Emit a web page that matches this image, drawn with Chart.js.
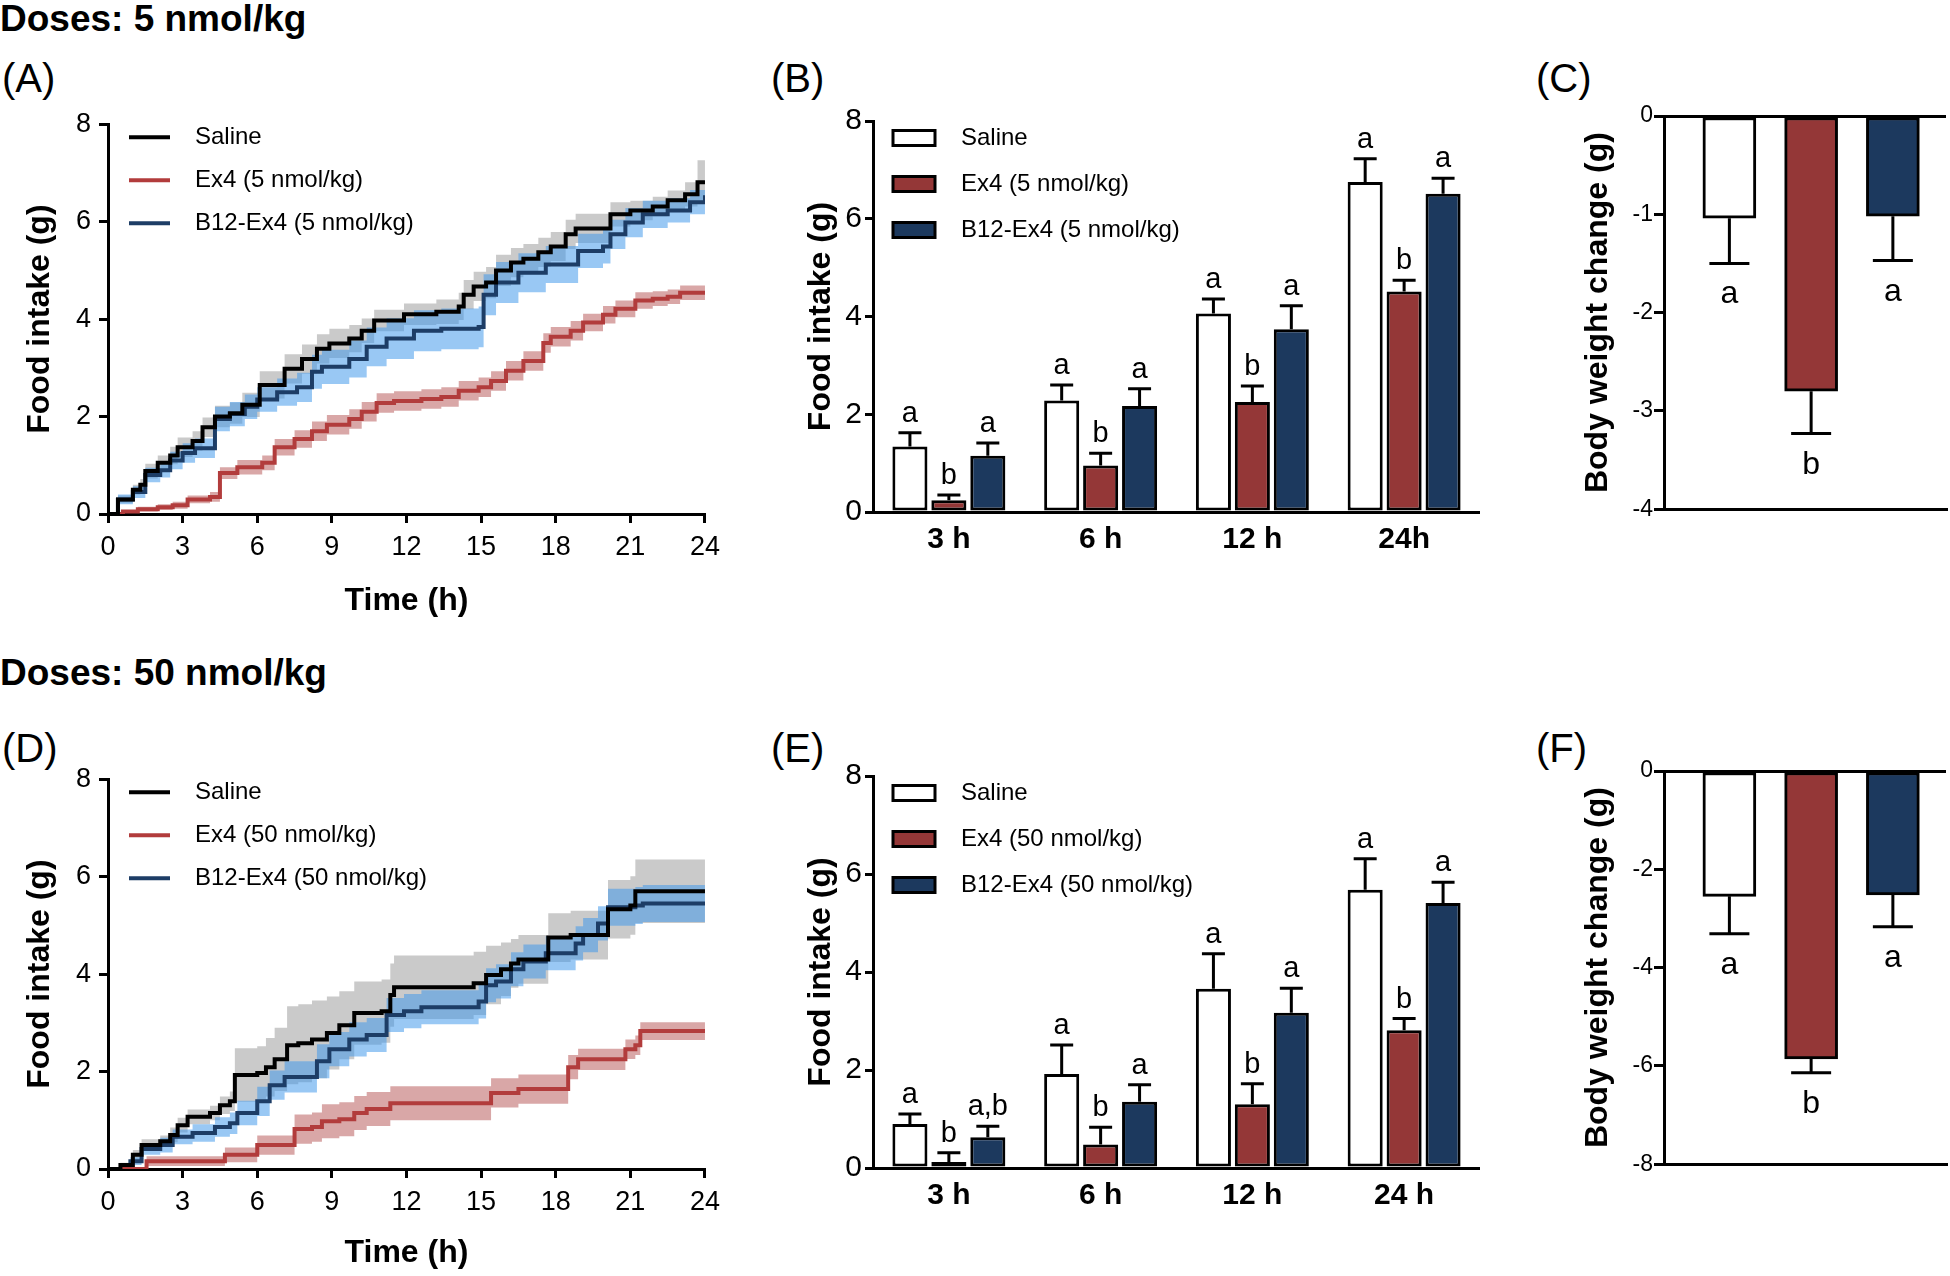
<!DOCTYPE html>
<html lang="en">
<head>
<meta charset="UTF-8">
<title>Food intake and body weight - Ex4 vs B12-Ex4</title>
<script src="https://cdn.jsdelivr.net/npm/chart.js"></script>
<style>
  body { margin: 0; background: #fff; font-family: "Liberation Sans", Arial, sans-serif; color: #000; }
  #page { position: relative; width: 1950px; height: 1276px; overflow: hidden; }
  .dose { position: absolute; left: 0; font-size: 37px; font-weight: bold; line-height: 1; white-space: nowrap; }
  .tag { position: absolute; font-size: 40px; line-height: 1; }
  .box { position: absolute; }
</style>
</head>
<body>
<div id="page">
  <div class="dose" style="top:0px">Doses: 5 nmol/kg</div>
  <div class="dose" style="top:654px">Doses: 50 nmol/kg</div>

  <div class="tag" style="left:2px;top:58px">(A)</div>
  <div class="tag" style="left:771px;top:58px">(B)</div>
  <div class="tag" style="left:1536px;top:58px">(C)</div>
  <div class="tag" style="left:2px;top:728px">(D)</div>
  <div class="tag" style="left:771px;top:728px">(E)</div>
  <div class="tag" style="left:1536px;top:728px">(F)</div>

  <div class="box" style="left:0;top:100px;width:728px;height:520px"><canvas id="chartA"></canvas></div>
  <div class="box" style="left:780px;top:100px;width:700px;height:460px"><canvas id="chartB"></canvas></div>
  <div class="box" style="left:1560px;top:100px;width:390px;height:424px"><canvas id="chartC"></canvas></div>
  <div class="box" style="left:0;top:755px;width:728px;height:517px"><canvas id="chartD"></canvas></div>
  <div class="box" style="left:780px;top:755px;width:700px;height:461px"><canvas id="chartE"></canvas></div>
  <div class="box" style="left:1560px;top:755px;width:390px;height:424px"><canvas id="chartF"></canvas></div>
</div>

<script>
// ---- group names ----
const groupsLow = ['Saline', 'Ex4 (5 nmol/kg)', 'B12-Ex4 (5 nmol/kg)'];
const groupsHigh = ['Saline', 'Ex4 (50 nmol/kg)', 'B12-Ex4 (50 nmol/kg)'];

// ---- (A) cumulative food intake, 5 nmol/kg: time (h), mean (g), SEM (g) ----
const salineA_t = [0, 0.4, 1.0, 1.3, 1.5, 2.0, 2.5, 2.8, 3.4, 3.8, 4.3, 4.9, 5.4, 6.1, 7.1, 7.8, 8.4, 8.9, 9.7, 10.2, 10.7, 11.9, 13.2, 14.1, 14.3, 14.7, 15.2, 15.6, 16.2, 16.7, 17.3, 17.8, 18.4, 18.8, 20.2, 21.0, 21.9, 22.5, 23.2, 23.7, 24];
const salineA_v = [0, 0.3, 0.5, 0.6, 0.88, 1.05, 1.2, 1.37, 1.5, 1.78, 2.0, 2.07, 2.24, 2.65, 2.98, 3.18, 3.39, 3.5, 3.6, 3.76, 3.97, 4.1, 4.15, 4.26, 4.5, 4.67, 4.75, 5.0, 5.16, 5.24, 5.37, 5.49, 5.74, 5.86, 6.15, 6.23, 6.31, 6.44, 6.56, 6.81, 6.81];
const salineA_s = [0, 0.08, 0.1, 0.12, 0.15, 0.15, 0.18, 0.2, 0.2, 0.2, 0.22, 0.22, 0.25, 0.28, 0.3, 0.3, 0.3, 0.3, 0.28, 0.25, 0.22, 0.22, 0.25, 0.28, 0.3, 0.3, 0.32, 0.32, 0.3, 0.3, 0.3, 0.3, 0.3, 0.3, 0.25, 0.2, 0.2, 0.2, 0.25, 0.45, 0.45];

const ex4A_t = [0, 0.6, 1.2, 2.0, 2.6, 3.2, 4.1, 4.5, 5.2, 6.2, 6.7, 7.5, 8.2, 8.8, 9.7, 10.2, 10.8, 11.5, 12.6, 13.4, 14.1, 14.9, 15.4, 16.0, 16.7, 17.5, 17.8, 18.6, 19.1, 19.9, 20.4, 21.2, 21.9, 22.5, 23.0, 24];
const ex4A_v = [0, 0.05, 0.1, 0.14, 0.18, 0.3, 0.35, 0.84, 0.96, 1.05, 1.37, 1.54, 1.7, 1.83, 1.95, 2.1, 2.28, 2.32, 2.36, 2.4, 2.53, 2.6, 2.73, 2.94, 3.14, 3.51, 3.64, 3.76, 3.93, 4.09, 4.21, 4.38, 4.42, 4.46, 4.54, 4.54];
const ex4A_s = [0, 0.03, 0.05, 0.06, 0.07, 0.08, 0.1, 0.12, 0.15, 0.15, 0.17, 0.18, 0.2, 0.2, 0.2, 0.2, 0.2, 0.2, 0.2, 0.2, 0.2, 0.2, 0.2, 0.2, 0.2, 0.2, 0.2, 0.2, 0.18, 0.18, 0.17, 0.17, 0.15, 0.15, 0.15, 0.15];

const b12A_t = [0, 0.4, 1.0, 1.5, 2.1, 2.5, 3.0, 3.5, 4.3, 4.9, 5.5, 6.0, 6.8, 7.6, 8.2, 8.6, 9.7, 10.4, 11.2, 12.3, 13.4, 14.9, 15.1, 15.6, 16.5, 17.6, 18.9, 19.9, 20.2, 20.8, 21.5, 22.5, 23.4, 24];
const b12A_v = [0, 0.3, 0.45, 0.8, 0.9, 1.1, 1.25, 1.35, 1.95, 2.05, 2.2, 2.35, 2.5, 2.6, 2.92, 3.02, 3.18, 3.43, 3.6, 3.76, 3.8, 3.84, 4.5, 4.75, 4.95, 5.12, 5.4, 5.49, 5.74, 5.98, 6.15, 6.23, 6.4, 6.54];
const b12A_s = [0, 0.1, 0.12, 0.15, 0.15, 0.18, 0.2, 0.2, 0.25, 0.25, 0.25, 0.25, 0.28, 0.3, 0.35, 0.35, 0.38, 0.4, 0.42, 0.42, 0.42, 0.42, 0.42, 0.42, 0.4, 0.38, 0.35, 0.35, 0.3, 0.3, 0.28, 0.25, 0.25, 0.25];

// ---- (D) cumulative food intake, 50 nmol/kg ----
const salineD_t = [0, 0.5, 1.0, 1.35, 2.1, 2.5, 2.8, 3.2, 4.1, 4.5, 4.9, 5.1, 6.0, 6.35, 6.7, 7.2, 7.65, 8.2, 8.8, 9.3, 9.9, 11.0, 11.35, 11.5, 14.7, 15.2, 15.8, 16.2, 16.5, 17.7, 18.6, 20.1, 21.0, 21.2, 24];
const salineD_v = [0, 0.08, 0.29, 0.49, 0.57, 0.7, 0.9, 1.07, 1.15, 1.31, 1.39, 1.93, 1.97, 2.09, 2.25, 2.54, 2.58, 2.66, 2.79, 2.95, 3.2, 3.24, 3.57, 3.73, 3.81, 3.98, 4.1, 4.22, 4.3, 4.75, 4.8, 5.33, 5.41, 5.7, 5.7];
const salineD_s = [0, 0.05, 0.1, 0.12, 0.12, 0.15, 0.15, 0.15, 0.15, 0.18, 0.2, 0.55, 0.55, 0.6, 0.65, 0.8, 0.8, 0.8, 0.75, 0.7, 0.65, 0.65, 0.65, 0.65, 0.65, 0.6, 0.55, 0.5, 0.5, 0.5, 0.5, 0.6, 0.6, 0.65, 0.65];

const ex4D_t = [0, 1.55, 4.7, 6.0, 7.5, 8.2, 8.6, 9.3, 9.9, 10.4, 11.35, 15.4, 16.5, 18.5, 18.9, 20.8, 21.2, 21.4, 24];
const ex4D_v = [0, 0.16, 0.29, 0.49, 0.82, 0.86, 0.98, 1.02, 1.15, 1.23, 1.35, 1.56, 1.64, 2.09, 2.25, 2.46, 2.54, 2.83, 2.83];
const ex4D_s = [0, 0.1, 0.15, 0.2, 0.3, 0.3, 0.35, 0.35, 0.35, 0.35, 0.35, 0.3, 0.3, 0.25, 0.22, 0.2, 0.2, 0.18, 0.18];

const b12D_t = [0, 0.9, 1.35, 2.1, 2.6, 3.4, 4.3, 4.9, 5.2, 6.0, 6.5, 7.1, 8.4, 8.9, 9.7, 10.4, 11.2, 11.9, 12.6, 14.9, 15.2, 15.6, 16.2, 16.7, 17.6, 18.8, 19.1, 19.7, 20.1, 21.2, 21.5, 24];
const b12D_v = [0, 0.16, 0.41, 0.49, 0.66, 0.74, 0.86, 0.94, 1.15, 1.39, 1.72, 1.89, 2.21, 2.46, 2.66, 2.75, 3.16, 3.24, 3.32, 3.44, 3.77, 3.85, 4.1, 4.26, 4.43, 4.63, 4.8, 5.04, 5.37, 5.41, 5.45, 5.45];
const b12D_s = [0, 0.08, 0.12, 0.15, 0.15, 0.18, 0.2, 0.22, 0.25, 0.3, 0.3, 0.32, 0.35, 0.35, 0.35, 0.35, 0.35, 0.35, 0.35, 0.35, 0.35, 0.35, 0.35, 0.35, 0.35, 0.35, 0.35, 0.35, 0.38, 0.38, 0.38, 0.38];

// ---- (B) food intake at time points, 5 nmol/kg ----
const periodsLow = ['3 h', '6 h', '12 h', '24h'];
const salineB = [1.34, 2.28, 4.06, 6.75];
const salineB_sem = [0.28, 0.32, 0.30, 0.48];
const ex4B = [0.24, 0.95, 2.25, 4.51];
const ex4B_sem = [0.11, 0.25, 0.33, 0.23];
const b12B = [1.15, 2.17, 3.74, 6.51];
const b12B_sem = [0.26, 0.35, 0.48, 0.32];
const salineB_sig = ['a', 'a', 'a', 'a'];
const ex4B_sig = ['b', 'b', 'b', 'b'];
const b12B_sig = ['a', 'a', 'a', 'a'];

// ---- (E) food intake at time points, 50 nmol/kg ----
const periodsHigh = ['3 h', '6 h', '12 h', '24 h'];
const salineE = [0.90, 1.92, 3.66, 5.68];
const salineE_sem = [0.20, 0.59, 0.71, 0.63];
const ex4E = [0.12, 0.48, 1.30, 2.81];
const ex4E_sem = [0.19, 0.35, 0.42, 0.24];
const b12E = [0.63, 1.35, 3.17, 5.41];
const b12E_sem = [0.22, 0.35, 0.50, 0.42];
const salineE_sig = ['a', 'a', 'a', 'a'];
const ex4E_sig = ['b', 'b', 'b', 'b'];
const b12E_sig = ['a,b', 'a', 'a', 'a'];

// ---- (C)/(F) body weight change (g) ----
const weightC = [-1.04, -2.80, -1.02];
const weightC_sem = [0.46, 0.43, 0.45];
const weightC_sig = ['a', 'b', 'a'];
const weightF = [-2.55, -5.86, -2.52];
const weightF_sem = [0.76, 0.28, 0.65];
const weightF_sig = ['a', 'b', 'a'];

// ---- look ----
const lineColors = ['#000000', '#b23c3c', '#1d3d66'];
const bandColors = ['rgba(150,150,150,0.5)', 'rgba(185,95,95,0.55)', 'rgba(70,155,235,0.55)'];
const barColors = ['#ffffff', '#943737', '#1c395e'];
const SANS = '"Liberation Sans", Arial, sans-serif';
const NARROW = '"Liberation Sans Narrow", "Arial Narrow", "Liberation Sans", sans-serif';

Chart.defaults.font.family = SANS;
Chart.defaults.color = '#000';
Chart.defaults.animation = false;
Chart.defaults.plugins.legend.display = false;
Chart.defaults.plugins.tooltip.enabled = false;

// legend drawn inside the plot area, like the original
const insideLegend = {
  id: 'insideLegend',
  afterDraw(chart, args, opts) {
    if (!opts.items) return;
    const { ctx, chartArea } = chart;
    ctx.save();
    opts.items.forEach((it, i) => {
      const y = chartArea.top + opts.y0 + i * opts.dy;
      const x = chartArea.left + opts.x0;
      if (opts.kind === 'line') {
        ctx.strokeStyle = it.color;
        ctx.lineWidth = 4;
        ctx.beginPath();
        ctx.moveTo(x, y);
        ctx.lineTo(x + opts.w, y);
        ctx.stroke();
      } else {
        ctx.fillStyle = it.color;
        ctx.fillRect(x, y - opts.h / 2, opts.w, opts.h);
        ctx.strokeStyle = '#000';
        ctx.lineWidth = 3;
        ctx.strokeRect(x, y - opts.h / 2, opts.w, opts.h);
      }
      ctx.fillStyle = '#000';
      ctx.font = opts.font;
      ctx.textBaseline = 'middle';
      ctx.fillText(it.text, chartArea.left + opts.tx, y);
    });
    ctx.restore();
  }
};

// one-sided SEM bars + significance letters
const errorBars = {
  id: 'errorBars',
  afterDatasetsDraw(chart, args, opts) {
    const { ctx } = chart;
    const yScale = chart.scales.y;
    ctx.save();
    chart.data.datasets.forEach((ds, di) => {
      if (!ds.sem) return;
      const meta = chart.getDatasetMeta(di);
      meta.data.forEach((bar, i) => {
        const raw = ds.data[i];
        const v = typeof raw === 'object' ? raw.y : raw;
        const dir = v < 0 ? -1 : 1;
        const yEnd = yScale.getPixelForValue(v + dir * ds.sem[i]);
        ctx.strokeStyle = '#000';
        ctx.lineWidth = 3;
        ctx.beginPath();
        ctx.moveTo(bar.x, bar.y);
        ctx.lineTo(bar.x, yEnd);
        ctx.moveTo(bar.x - opts.cap / 2, yEnd);
        ctx.lineTo(bar.x + opts.cap / 2, yEnd);
        ctx.stroke();
        if (ds.sig) {
          ctx.fillStyle = '#000';
          ctx.font = opts.font;
          ctx.textAlign = 'center';
          ctx.textBaseline = 'alphabetic';
          ctx.fillText(ds.sig[i], bar.x, dir > 0 ? yEnd - opts.gapUp : yEnd + opts.gapDown);
        }
      });
    });
    ctx.restore();
  }
};

function pts(t, v) {
  return t.map((x, i) => ({ x: x, y: v[i] }));
}
function band(t, v, s, sign) {
  return t.map((x, i) => ({ x: x, y: v[i] + sign * s[i] }));
}

function axisStyle(tickLen) {
  return {
    grid: { display: true, drawOnChartArea: false, drawTicks: tickLen > 0, color: '#000', lineWidth: 3, tickLength: tickLen },
    border: { display: true, color: '#000', width: 3 }
  };
}

function timeCourse(id, series, names, xHeight) {
  const datasets = [];
  // bands first (drawn underneath), saline band lowest
  series.forEach((sr, k) => {
    datasets.push({ data: band(sr.t, sr.v, sr.s, -1), borderWidth: 0, pointRadius: 0, stepped: true, fill: false, order: 13 - k });
    datasets.push({ data: band(sr.t, sr.v, sr.s, 1), borderWidth: 0, pointRadius: 0, stepped: true, fill: '-1', backgroundColor: bandColors[k], order: 13 - k });
  });
  series.forEach((sr, k) => {
    datasets.push({ label: names[k], data: pts(sr.t, sr.v), borderColor: lineColors[k], borderWidth: 4, pointRadius: 0, stepped: true, fill: false, order: k + 1 });
  });
  return new Chart(document.getElementById(id), {
    type: 'line',
    data: { datasets: datasets },
    options: {
      responsive: true,
      maintainAspectRatio: false,
      devicePixelRatio: 1,
      layout: { padding: { top: 16, right: 8, bottom: 0, left: 0 } },
      scales: {
        x: {
          type: 'linear', min: 0, max: 24,
          ticks: { stepSize: 3, font: { size: 27 }, color: '#000', padding: 8 },
          ...axisStyle(9),
          title: { display: true, text: 'Time (h)', font: { size: 32, weight: 'bold' }, color: '#000', padding: { top: 0, bottom: 0 } },
          afterFit(s) { s.height = xHeight; }
        },
        y: {
          min: 0, max: 8,
          ticks: { stepSize: 2, font: { size: 27 }, color: '#000', padding: 8 },
          ...axisStyle(9),
          title: { display: true, text: 'Food intake (g)', font: { size: 32, weight: 'bold' }, color: '#000', padding: { top: 21, bottom: 0 } },
          afterFit(s) { s.width = 108; }
        }
      },
      plugins: {
        insideLegend: {
          kind: 'line', x0: 21, w: 41, tx: 87, y0: 13, dy: 43, font: '24px ' + SANS,
          items: names.map((n, k) => ({ text: n, color: lineColors[k] }))
        }
      }
    },
    plugins: [insideLegend]
  });
}

function timePoints(id, cats, vals, sems, sigs, names) {
  return new Chart(document.getElementById(id), {
    type: 'bar',
    data: {
      labels: cats,
      datasets: vals.map((v, k) => ({
        label: names[k], data: v, sem: sems[k], sig: sigs[k],
        backgroundColor: barColors[k], borderColor: '#000', borderWidth: 3, borderSkipped: false,
        categoryPercentage: 0.77, barPercentage: 0.9
      }))
    },
    options: {
      responsive: true,
      maintainAspectRatio: false,
      devicePixelRatio: 1,
      layout: { padding: { top: 16, right: 0, bottom: 0, left: 0 } },
      scales: {
        x: {
          ticks: { font: { family: NARROW, size: 30, weight: 'bold' }, color: '#000', padding: 10 },
          ...axisStyle(0),
          afterFit(s) { s.height = 48; }
        },
        y: {
          min: 0, max: 8,
          ticks: { stepSize: 2, font: { family: NARROW, size: 30 }, color: '#000', padding: 3 },
          ...axisStyle(8),
          title: { display: true, text: 'Food intake (g)', font: { size: 32, weight: 'bold' }, color: '#000', padding: { top: 22, bottom: 0 } },
          afterFit(s) { s.width = 93; }
        }
      },
      plugins: {
        errorBars: { cap: 23, font: '29px ' + NARROW, gapUp: 11, gapDown: 0 },
        insideLegend: {
          kind: 'box', x0: 20, w: 42, h: 15, tx: 88, y0: 17, dy: 46, font: '24px ' + NARROW,
          items: names.map((n, k) => ({ text: n, color: barColors[k] }))
        }
      }
    },
    plugins: [errorBars, insideLegend]
  });
}

function weightChange(id, vals, sems, sigs, yMin, yStep) {
  return new Chart(document.getElementById(id), {
    type: 'bar',
    data: {
      datasets: [{
        data: vals.map((v, i) => ({ x: i + 1, y: v })),
        sem: sems, sig: sigs,
        backgroundColor: barColors, borderColor: '#000', borderWidth: 3, borderSkipped: false,
        barThickness: 53
      }]
    },
    options: {
      responsive: true,
      maintainAspectRatio: false,
      devicePixelRatio: 1,
      layout: { padding: { top: 16, right: 4, bottom: 0, left: 0 } },
      scales: {
        x: {
          type: 'linear', min: 0.2, max: 3.65, offset: false,
          ticks: { display: false },
          ...axisStyle(0),
          afterFit(s) { s.height = 10; }
        },
        y: {
          min: yMin, max: 0,
          ticks: { stepSize: yStep, font: { size: 23 }, color: '#000', padding: 1 },
          grid: {
            display: true, drawOnChartArea: true, drawTicks: true, tickLength: 10, lineWidth: 3, tickColor: '#000',
            color: (c) => (c.tick && c.tick.value === 0 ? '#000' : 'rgba(0,0,0,0)')
          },
          border: { display: true, color: '#000', width: 3 },
          title: { display: true, text: 'Body weight change (g)', font: { size: 32, weight: 'bold' }, color: '#000', padding: { top: 19, bottom: 0 } },
          afterFit(s) { s.width = 104; }
        }
      },
      plugins: {
        errorBars: { cap: 40, font: '32px ' + SANS, gapUp: 0, gapDown: 40 }
      }
    },
    plugins: [errorBars]
  });
}

timeCourse('chartA', [
  { t: salineA_t, v: salineA_v, s: salineA_s },
  { t: ex4A_t, v: ex4A_v, s: ex4A_s },
  { t: b12A_t, v: b12A_v, s: b12A_s }
], groupsLow, 106);

timeCourse('chartD', [
  { t: salineD_t, v: salineD_v, s: salineD_s },
  { t: ex4D_t, v: ex4D_v, s: ex4D_s },
  { t: b12D_t, v: b12D_v, s: b12D_s }
], groupsHigh, 103);

timePoints('chartB', periodsLow, [salineB, ex4B, b12B], [salineB_sem, ex4B_sem, b12B_sem], [salineB_sig, ex4B_sig, b12B_sig], groupsLow);
timePoints('chartE', periodsHigh, [salineE, ex4E, b12E], [salineE_sem, ex4E_sem, b12E_sem], [salineE_sig, ex4E_sig, b12E_sig], groupsHigh);

weightChange('chartC', weightC, weightC_sem, weightC_sig, -4, 1);
weightChange('chartF', weightF, weightF_sem, weightF_sig, -8, 2);
</script>
</body>
</html>
